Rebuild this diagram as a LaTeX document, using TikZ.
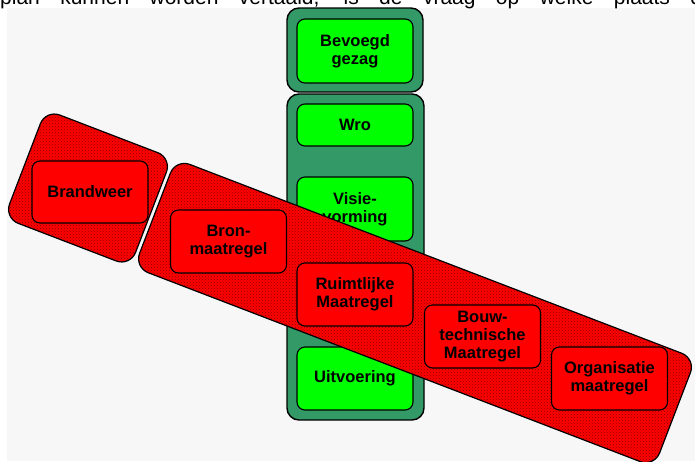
\documentclass[tikz,border=0pt]{standalone}
\usepackage{fontspec}
\setmainfont{Liberation Sans}
\usetikzlibrary{patterns}
\definecolor{kolomgroen}{RGB}{51,153,102}
\definecolor{felgroen}{RGB}{0,255,0}
\definecolor{felrood}{RGB}{255,0,0}
\definecolor{achtergrond}{RGB}{247,247,247}

\begin{document}
\begin{tikzpicture}[x=1pt,y=-1pt]
				\tikzstyle{every node}+=[inner sep=0pt]
				\tikzstyle{kolom}=[draw=black,line width=1.4pt,fill=kolomgroen,rounded corners=12pt]
				\tikzstyle{groenblok}=[draw=black,line width=1.1pt,fill=felgroen,rounded corners=8pt,minimum width=116pt,align=center,font=\bfseries\fontsize{16.5}{18}\selectfont]
				\tikzstyle{roodblok}=[groenblok,fill=felrood,minimum height=63pt]
				\tikzstyle{band}=[draw=black,line width=1.2pt,rounded corners=15pt,rotate=-21,minimum height=116pt,preaction={fill=felrood},pattern=crosshatch dots,pattern color=felrood!55!black]
				\useasboundingbox (0,0) rectangle (695,461);
				\fill [achtergrond] (7,8) rectangle (695,461);
				\begin{scope}
				\clip (0,0) rectangle (695,8);
				\node [anchor=base west,font=\fontsize{21}{23}\selectfont] (kop) at (0,4) {\makebox[702pt][s]{plan kunnen worden vertaald, is de vraag op welke plaats d}};
				\end{scope}
				\node [kolom,minimum width=136pt,minimum height=84pt] (kolomA) at (355,50) {};
				\node [kolom,minimum width=137pt,minimum height=326pt] (kolomB) at (355.5,257) {};
				\node [groenblok,minimum height=64pt] (bevoegd) at (355,51) {Bevoegd\\gezag};
				\node [groenblok,minimum height=42pt] (wro) at (355,125) {Wro};
				\node [groenblok,minimum height=64pt] (visie) at (355,209) {Visie-\\vorming};
				\node [groenblok,minimum height=63pt] (uitvoering) at (355,378.5) {Uitvoering};
				\node [band,minimum width=135pt] (bandBrand) at (88,188) {};
				\node [band,minimum width=557pt] (bandMaat) at (415,313) {};
				\node [roodblok,minimum height=62pt] (brandweer) at (90,192) {Brandweer};
				\node [roodblok] (bron) at (228.5,241.5) {Bron-\\maatregel};
				\node [roodblok] (ruimtelijk) at (355,294.5) {Ruimtlijke\\Maatregel};
				\node [roodblok] (bouw) at (482.5,336.5) {Bouw-\\technische\\Maatregel};
				\node [roodblok] (organisatie) at (609.5,378.5) {Organisatie\\maatregel};
			\end{tikzpicture}
\end{document}
